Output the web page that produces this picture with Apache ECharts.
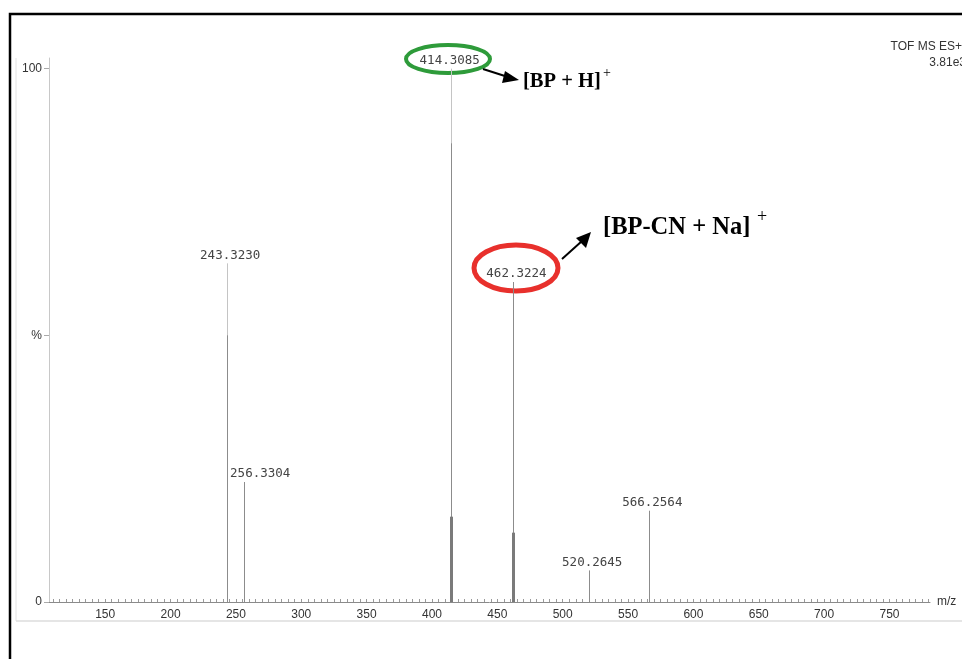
<!DOCTYPE html>
<html>
<head>
<meta charset="utf-8">
<script src="https://cdn.jsdelivr.net/npm/echarts@6/dist/echarts.min.js"></script>
<style>html,body{margin:0;padding:0;background:#fff;}#c{width:962px;height:659px;}</style>
</head>
<body>
<div id="c"></div>
<script>
// Peak data (m/z, relative intensity %)
const peakMz = [243.3230, 256.3304, 414.3085, 462.3224, 520.2645, 566.2564];
const peakIntensity = [63.5, 22.5, 100, 60, 5.9, 17.1];
// darker core portion of each stick (as seen in the scan)
const peakCore = [50, 22.5, 86, 60, 5.9, 17.1];
// thick base of the two main isotopic clusters
const baseMz = [414.3085, 462.3224];
const baseIntensity = [16, 13];
// axis ticks
const xTickLabels = [150, 200, 250, 300, 350, 400, 450, 500, 550, 600, 650, 700, 750];
const xMinorTicks = [];
for (let v = 110; v <= 780; v += 5) xMinorTicks.push(v);
const yTickValues = [0, 50, 100];

const chart = echarts.init(document.getElementById('c'));

function stickSeries(name, xs, ys, color, width) {
  return {
    type: 'custom', name: name, clip: false,
    data: xs.map((x, i) => [x, ys[i]]),
    renderItem: function (params, api) {
      const x = api.value(0), y = api.value(1);
      const p0 = api.coord([x, 0]);
      const p1 = api.coord([x, y]);
      const px = Math.round(p0[0]) + 0.5;
      return { type: 'line', shape: { x1: px, y1: p0[1], x2: px, y2: p1[1] },
               style: { stroke: color, lineWidth: width } };
    }
  };
}

// label placement style (pixel nudges as drawn by the instrument software)
function labelNudge(idx) { return idx === 1 ? 16 : (idx === 2 ? -1 : 3); }

const option = {
  animation: false,
  backgroundColor: '#fff',
  grid: { left: 49, right: 32, top: 58, bottom: 57 },
  xAxis: {
    type: 'value', min: 107, max: 781,
    name: 'm/z', nameLocation: 'end', nameGap: 7,
    nameTextStyle: { fontFamily: 'Liberation Sans', fontSize: 12, color: '#333', verticalAlign: 'middle' },
    axisLine: { lineStyle: { color: '#8a8a8a', width: 1 } },
    axisTick: { show: true, inside: true, length: 3, customValues: xMinorTicks, lineStyle: { color: '#9a9a9a' } },
    axisLabel: { customValues: xTickLabels, fontFamily: 'Liberation Sans', fontSize: 12, color: '#333', margin: 7 },
    splitLine: { show: false }
  },
  yAxis: {
    type: 'value', min: 0, max: 102,
    axisLine: { show: true, lineStyle: { color: '#c8c8c8', width: 1 } },
    axisTick: { show: true, length: 5, customValues: yTickValues, lineStyle: { color: '#aaa' } },
    axisLabel: { customValues: yTickValues, fontFamily: 'Liberation Sans', fontSize: 12, color: '#333', margin: 7,
                 formatter: v => (v === 50 ? '%' : String(v)) },
    splitLine: { show: false }
  },
  series: [
    stickSeries('light', peakMz, peakIntensity, '#c4c4c4', 1),
    stickSeries('core', peakMz, peakCore, '#8c8c8c', 1),
    stickSeries('base', baseMz, baseIntensity, '#7a7a7a', 3),
    {
      type: 'custom', name: 'labels', clip: false,
      data: peakMz.map((x, i) => [x, peakIntensity[i]]),
      renderItem: function (params, api) {
        const x = api.value(0), y = api.value(1);
        const p = api.coord([x, y]);
        return { type: 'text', x: p[0] + labelNudge(params.dataIndex), y: p[1] - 8,
                 style: { text: x.toFixed(4), align: 'center', verticalAlign: 'middle',
                          fontFamily: 'DejaVu Sans Mono', fontSize: 12.5, fill: '#444' } };
      }
    }
  ],
  graphic: [
    // outer black frame
    { type: 'rect', shape: { x: 10, y: 14, width: 980, height: 700 }, style: { fill: 'none', stroke: '#000', lineWidth: 2.5 }, z: 100 },
    // faint scan frame
    { type: 'line', shape: { x1: 16, y1: 58, x2: 16, y2: 621 }, style: { stroke: '#e2e2e2', lineWidth: 1 } },
    { type: 'line', shape: { x1: 16, y1: 621, x2: 962, y2: 621 }, style: { stroke: '#dcdcdc', lineWidth: 1.5 } },
    // instrument text
    { type: 'text', x: 962, y: 47, style: { text: 'TOF MS ES+', align: 'right', verticalAlign: 'middle', fontFamily: 'Liberation Sans', fontSize: 12, fill: '#333' } },
    { type: 'text', x: 966, y: 63, style: { text: '3.81e3', align: 'right', verticalAlign: 'middle', fontFamily: 'Liberation Sans', fontSize: 12, fill: '#333' } },
    // green ellipse + arrow + label
    { type: 'ellipse', shape: { cx: 448, cy: 59, rx: 42, ry: 14 }, style: { fill: 'none', stroke: '#2e9b3a', lineWidth: 4 } },
    { type: 'line', shape: { x1: 483, y1: 69, x2: 508, y2: 77 }, style: { stroke: '#000', lineWidth: 2 } },
    { type: 'polygon', shape: { points: [[519, 80], [505, 71], [502, 83]] }, style: { fill: '#000' } },
    { type: 'text', x: 523, y: 92, style: { text: '[BP + H]', align: 'left', verticalAlign: 'bottom', fontFamily: 'Liberation Serif', fontWeight: 'bold', fontSize: 20.5, fill: '#000' } },
    { type: 'text', x: 607, y: 73, style: { text: '+', align: 'center', verticalAlign: 'middle', fontFamily: 'Liberation Serif', fontSize: 14, fill: '#000' } },
    // red ellipse + arrow + label
    { type: 'ellipse', shape: { cx: 516, cy: 268, rx: 42, ry: 23 }, style: { fill: 'none', stroke: '#e8302c', lineWidth: 5 } },
    { type: 'line', shape: { x1: 562, y1: 259, x2: 582, y2: 241 }, style: { stroke: '#000', lineWidth: 2 } },
    { type: 'polygon', shape: { points: [[591, 232], [576, 238], [586, 248]] }, style: { fill: '#000' } },
    { type: 'text', x: 603, y: 240, style: { text: '[BP-CN + Na]', align: 'left', verticalAlign: 'bottom', fontFamily: 'Liberation Serif', fontWeight: 'bold', fontSize: 24.5, fill: '#000' } },
    { type: 'text', x: 762, y: 217, style: { text: '+', align: 'center', verticalAlign: 'middle', fontFamily: 'Liberation Serif', fontSize: 18, fill: '#000' } }
  ]
};
chart.setOption(option);
</script>
</body>
</html>
